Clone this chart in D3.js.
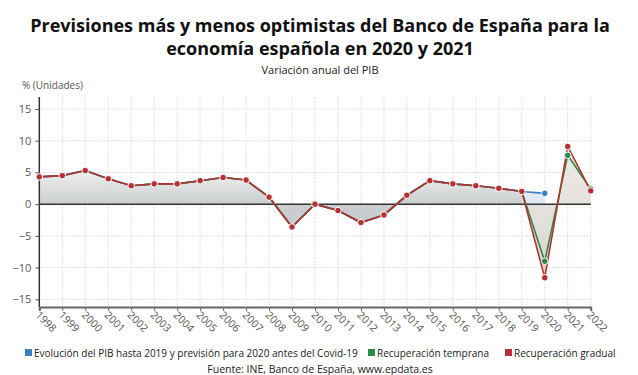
<!DOCTYPE html>
<html>
<head>
<meta charset="utf-8">
<script src="https://cdn.jsdelivr.net/npm/d3@7"></script>
<style>
  body { margin: 0; background: #fff; }
  svg { display: block; font-family: "Open Sans", sans-serif; }
</style>
</head>
<body>
<div id="chart"></div>
<script>
// data
const years = d3.range(1998, 2023);
const historic = [4.3, 4.5, 5.3, 4.0, 2.9, 3.2, 3.2, 3.7, 4.2, 3.8, 1.1, -3.6, 0.0, -1.0, -2.9, -1.7, 1.4, 3.7, 3.2, 2.9, 2.5, 2.0]; // 1998-2019
const preCovid2020 = [1.7];            // 2020
const early = [-9.0, 7.7, 2.4];        // 2020-2022
const gradual = [-11.6, 9.1, 2.1];     // 2020-2022
const yTicks = [-15, -10, -5, 0, 5, 10, 15];

const seriesNames = ["Evolución del PIB hasta 2019 y previsión para 2020 antes del Covid-19", "Recuperación temprana", "Recuperación gradual"];
const colors = ["#3b7fc1", "#2c8a47", "#b43236"];

// build point lists
const histPts = historic.map((v, i) => [years[i], v]);
const bluePts = histPts.concat(preCovid2020.map((v, i) => [2020 + i, v]));
const greenPts = histPts.concat(early.map((v, i) => [2020 + i, v]));
const redPts = histPts.concat(gradual.map((v, i) => [2020 + i, v]));

const W = 638, H = 375;
const plotTop = 97, plotBottom = 307;

const svg = d3.select("#chart").append("svg")
  .attr("width", W).attr("height", H);

const x = d3.scaleLinear().domain([1998, 2022]).range([39.3, 590.7]);
const y = d3.scaleLinear().domain([-15, 15]).range([299.3, 109]);

// gradients
const defs = svg.append("defs");
const gGray = defs.append("linearGradient").attr("id", "gray")
  .attr("gradientUnits", "userSpaceOnUse")
  .attr("x1", 0).attr("x2", 0).attr("y1", y(6)).attr("y2", y(0));
gGray.append("stop").attr("offset", 0).attr("stop-color", "#f3f3f3");
gGray.append("stop").attr("offset", 1).attr("stop-color", "#c4c8ca");

const gBeige = defs.append("linearGradient").attr("id", "beige")
  .attr("gradientUnits", "userSpaceOnUse")
  .attr("x1", 0).attr("x2", 0).attr("y1", y(9)).attr("y2", y(-12));
gBeige.append("stop").attr("offset", 0).attr("stop-color", "#ece9e5");
gBeige.append("stop").attr("offset", 1).attr("stop-color", "#d6d0ca");

// grid
const grid = svg.append("g");
grid.selectAll("line.h")
  .data(yTicks.filter(d => d !== 0))
  .join("line")
    .attr("x1", x(1998)).attr("x2", x(2022))
    .attr("y1", d => y(d)).attr("y2", d => y(d))
    .attr("stroke", "#cfcfcf").attr("stroke-dasharray", "1,1.5");
grid.selectAll("line.v")
  .data(years.slice(1))
  .join("line")
    .attr("x1", d => x(d)).attr("x2", d => x(d))
    .attr("y1", plotTop).attr("y2", plotBottom)
    .attr("stroke", "#cfcfcf").attr("stroke-dasharray", "1,1.5");

// areas
const area = d3.area().x(d => x(d[0])).y0(y(0)).y1(d => y(d[1]));
svg.append("path").datum(redPts.slice(21))
  .attr("d", area).attr("fill", "url(#beige)").attr("opacity", 0.9);
svg.append("path").datum(bluePts.slice(21))
  .attr("d", area)
  .attr("fill", "#dfeaf5").attr("opacity", 0.9);
svg.append("path").datum(histPts)
  .attr("d", area).attr("fill", "url(#gray)").attr("opacity", 0.9);

// zero line
svg.append("line")
  .attr("x1", x(1998)).attr("x2", x(2022))
  .attr("y1", y(0)).attr("y2", y(0))
  .attr("stroke", "#333").attr("stroke-width", 1.5);

// y axis
const yAxis = svg.append("g").attr("transform", `translate(${x(1998)},0)`)
  .call(d3.axisLeft(y).tickValues(yTicks).tickSize(4).tickPadding(4));
yAxis.select(".domain").attr("d", `M0,${plotTop}V${plotBottom}`).attr("stroke", "#333").attr("stroke-width", 1.5);
yAxis.selectAll(".tick line").attr("stroke", "#555");
yAxis.selectAll("text").attr("font-size", 11).attr("fill", "#555")
  .attr("font-family", "Open Sans, sans-serif");

// x axis
const xAxis = svg.append("g").attr("transform", `translate(0,${plotBottom})`)
  .call(d3.axisBottom(x).tickValues(years).tickFormat(d3.format("d")).tickSize(4));
xAxis.select(".domain").attr("stroke", "#666").attr("stroke-width", 2);
xAxis.selectAll(".tick line").attr("stroke", "#666");
xAxis.selectAll("text")
  .attr("font-size", 10.5).attr("fill", "#555")
  .attr("font-family", "Open Sans, sans-serif")
  .attr("text-anchor", "start")
  .attr("transform", "translate(2,2) rotate(45)")
  .attr("y", 6).attr("x", 0).attr("dy", "0.35em");

// lines
const line = d3.line().x(d => x(d[0])).y(d => y(d[1]));
[bluePts, greenPts, redPts].forEach((pts, i) => {
  svg.append("path").datum(pts)
    .attr("d", line).attr("fill", "none")
    .attr("stroke", colors[i]).attr("stroke-width", 1.6);
});

// markers
const markers = [
  bluePts.slice(22),
  greenPts.slice(22),
  redPts
];
markers.forEach((pts, i) => {
  svg.append("g").selectAll("circle")
    .data(pts)
    .join("circle")
      .attr("cx", d => x(d[0])).attr("cy", d => y(d[1]))
      .attr("r", 3.3)
      .attr("fill", colors[i]).attr("stroke", "#fff").attr("stroke-width", 1);
});

// titles
svg.append("text").attr("x", 320).attr("y", 32).attr("text-anchor", "middle")
  .attr("font-size", 18).attr("font-weight", "bold").attr("fill", "#111")
  .text("Previsiones más y menos optimistas del Banco de España para la");
svg.append("text").attr("x", 320).attr("y", 55).attr("text-anchor", "middle")
  .attr("font-size", 18).attr("font-weight", "bold").attr("fill", "#111")
  .text("economía española en 2020 y 2021");
svg.append("text").attr("x", 320).attr("y", 74).attr("text-anchor", "middle")
  .attr("font-size", 11).attr("fill", "#222")
  .text("Variación anual del PIB");
svg.append("text").attr("x", 22).attr("y", 89)
  .attr("font-size", 10).attr("fill", "#555")
  .text("% (Unidades)");

// legend
const legX = [25, 368, 505];
const leg = svg.append("g");
seriesNames.forEach((name, i) => {
  leg.append("rect").attr("x", legX[i]).attr("y", 349).attr("width", 7).attr("height", 7)
    .attr("fill", colors[i]);
  leg.append("text").attr("x", legX[i] + 9).attr("y", 357)
    .attr("font-size", 10).attr("fill", "#222").text(name);
});

svg.append("text").attr("x", 320).attr("y", 373).attr("text-anchor", "middle")
  .attr("font-size", 10.5).attr("fill", "#222")
  .text("Fuente: INE, Banco de España, www.epdata.es");
</script>
</body>
</html>
